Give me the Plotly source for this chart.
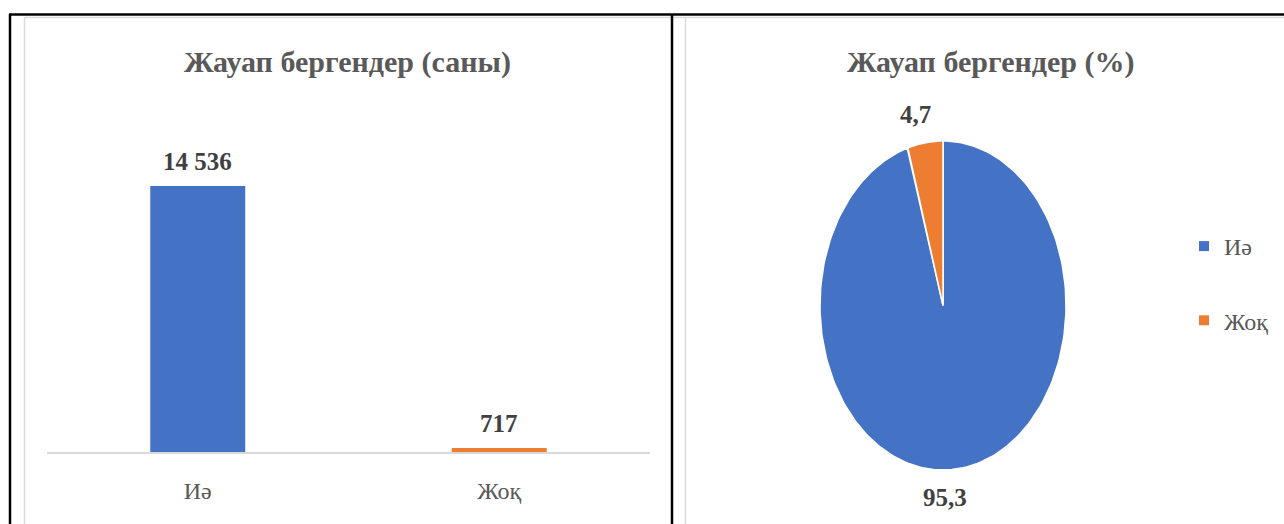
import numpy as np
import plotly.graph_objects as go

# ---- data ----
bar_categories = ["Иә", "Жоқ"]
bar_counts = [14536, 717]
pie_labels = ["Иә", "Жоқ"]
pie_percents = [95.3, 4.7]
colors = ["#4472C4", "#ED7D31"]
title_left = "Жауап бергендер (саны)"
title_right = "Жауап бергендер (%)"

W, H = 1284, 524
FONT = "Liberation Serif, DejaVu Serif, serif"


def px_x(p):
    return p / W


def px_y(p):
    return 1 - p / H


fig = go.Figure()

# ---- bar chart ----
fig.add_trace(go.Bar(
    x=bar_categories, y=bar_counts,
    marker=dict(color=colors, line=dict(width=0)),
    xaxis="x", yaxis="y", showlegend=False, hoverinfo="x+y",
))

for cat, val in zip(bar_categories, bar_counts):
    fig.add_annotation(
        x=cat, y=val, xref="x", yref="y",
        text=f"{val:,}".replace(",", " "),
        showarrow=False, yanchor="bottom", yshift=9,
        font=dict(family=FONT, size=25, color="#404040", weight="bold"),
    )

# ---- pie (elliptical) drawn through scatter on its own axes ----
total = sum(pie_percents)
start = np.pi / 2  # 12 o'clock, clockwise
angle = start
for lab, val, col in zip(pie_labels, pie_percents, colors):
    sweep = 2 * np.pi * val / total
    t = np.linspace(angle, angle - sweep, 200)
    xs = np.concatenate([[0], np.cos(t), [0]])
    ys = np.concatenate([[0], np.sin(t), [0]])
    fig.add_trace(go.Scatter(
        x=xs, y=ys, mode="lines", fill="toself", fillcolor=col,
        line=dict(color="white", width=1.5), xaxis="x2", yaxis="y2",
        showlegend=False, name=lab, hoverinfo="name",
    ))
    angle -= sweep

# legend entries
for i, (lab, col) in enumerate(zip(pie_labels, colors)):
    fig.add_trace(go.Scatter(
        x=[None], y=[None], mode="markers", name=lab,
        marker=dict(symbol="square", size=10, color=col),
        xaxis="x2", yaxis="y2", legendgroup=f"g{i}", showlegend=True,
    ))

# pie value labels
label_pos = [(945, 497), (915, 115)]
for (lx, ly), val in zip(label_pos, pie_percents):
    fig.add_annotation(
        x=px_x(lx), y=px_y(ly), xref="paper", yref="paper",
        text=f"{val:.1f}".replace(".", ","), showarrow=False,
        xanchor="center", yanchor="middle",
        font=dict(family=FONT, size=25, color="#404040", weight="bold"),
    )

# titles
for txt, cx in [(title_left, 347), (title_right, 990)]:
    fig.add_annotation(
        x=px_x(cx), y=px_y(62), xref="paper", yref="paper",
        text=txt, showarrow=False, xanchor="center", yanchor="middle",
        font=dict(family=FONT, size=30, color="#595959", weight="bold"),
    )

# ---- geometry of pie axes ----
cx, cy, rx, ry, pad = 943, 305.5, 123, 164.5, 10
x2_dom = [px_x(cx - rx - pad), px_x(cx + rx + pad)]
y2_dom = [px_y(cy + ry + pad), px_y(cy - ry - pad)]
x2_rng = [-(rx + pad) / rx, (rx + pad) / rx]
y2_rng = [-(ry + pad) / ry, (ry + pad) / ry]

# ---- border shapes ----
shapes = []
def line(x0, y0, x1, y1, color, width):
    shapes.append(dict(type="line", xref="paper", yref="paper",
                       x0=px_x(x0), y0=px_y(y0), x1=px_x(x1), y1=px_y(y1),
                       line=dict(color=color, width=width)))

line(24.5, 17.5, 1284, 17.5, "#d9d9d9", 1.5)
line(24.5, 17.5, 24.5, 524, "#d9d9d9", 1.5)
line(685.5, 17.5, 685.5, 524, "#d9d9d9", 1.5)
line(9, 14.5, 1284, 14.5, "black", 2.5)
line(10, 14, 10, 524, "black", 2.5)
line(672, 14, 672, 524, "black", 2.5)

fig.update_layout(
    width=W, height=H,
    margin=dict(l=0, r=0, t=0, b=0),
    paper_bgcolor="white", plot_bgcolor="white",
    font=dict(family=FONT, color="#595959"),
    bargap=0.685,
    xaxis=dict(domain=[px_x(47), px_x(650)], showgrid=False, zeroline=False,
               showline=True, linecolor="#d9d9d9", linewidth=2,
               ticks="", ticklabelstandoff=16,
               tickfont=dict(family=FONT, size=24, color="#595959"),
               fixedrange=True),
    yaxis=dict(domain=[px_y(452), px_y(158.3)], range=[500, 16000],
               showgrid=False, zeroline=False, showline=False,
               showticklabels=False, ticks="", fixedrange=True),
    xaxis2=dict(domain=x2_dom, range=x2_rng, visible=False, fixedrange=True,
                anchor="y2"),
    yaxis2=dict(domain=y2_dom, range=y2_rng, visible=False, fixedrange=True,
                anchor="x2"),
    legend=dict(x=px_x(1184), y=px_y(224), xanchor="left", yanchor="top",
                font=dict(family=FONT, size=24, color="#595959"),
                tracegroupgap=40, traceorder="grouped",
                itemwidth=30, bgcolor="rgba(0,0,0,0)"),
    shapes=shapes,
)

fig.write_html("out.html")
